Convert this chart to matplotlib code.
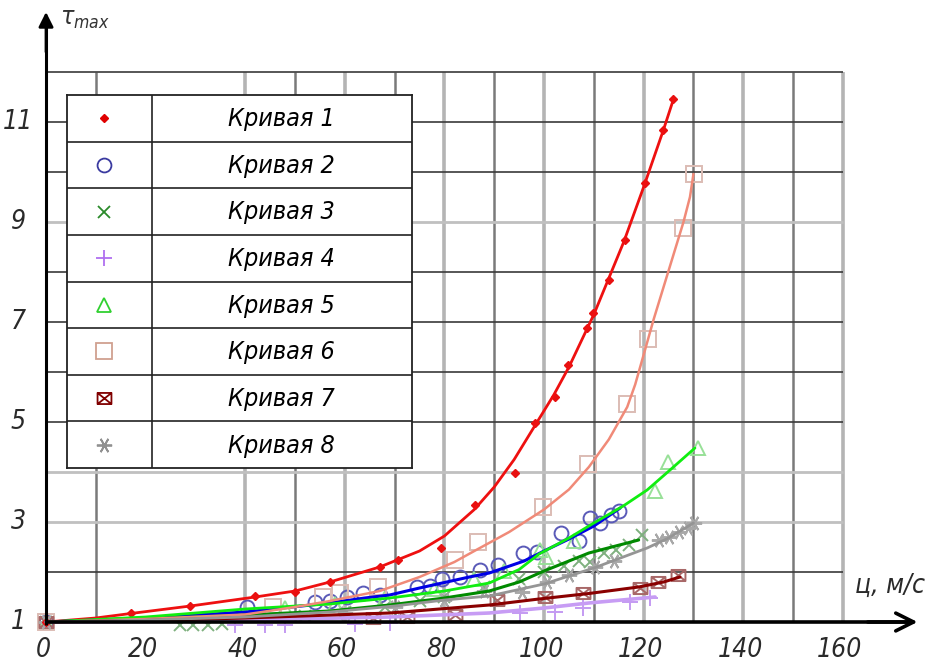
import matplotlib
matplotlib.use("Agg")
import matplotlib.pyplot as plt
from matplotlib.path import Path

plt.rcParams['font.family'] = ['DejaVu Sans']
plt.rcParams['font.stretch'] = 'condensed'

# ---------------- data ----------------
labels = ["Кривая 1", "Кривая 2", "Кривая 3", "Кривая 4",
          "Кривая 5", "Кривая 6", "Кривая 7", "Кривая 8"]

x_ticks = [0, 20, 40, 60, 80, 100, 120, 140, 160]
y_ticks = [1, 3, 5, 7, 9, 11]

# measured points
c1_x = [0, 17, 29, 42, 50, 57, 67, 70.7, 79.3, 86.1, 94.2, 98.2, 102.2, 104.8, 108.6, 109.8, 113, 116.3, 120.3, 123.9, 125.9]
c1_y = [1, 1.18, 1.32, 1.52, 1.6, 1.8, 2.1, 2.24, 2.48, 3.34, 3.98, 4.98, 5.5, 6.14, 6.88, 7.18, 7.84, 8.64, 9.78, 10.84, 11.46]
c2_x = [0, 40.4, 54, 57, 60.4, 63.7, 67, 74.5, 77, 79.5, 83.1, 87.1, 90.8, 95.8, 98.6, 103.4, 107, 109.2, 111.2, 113.5, 115]
c2_y = [1, 1.3, 1.4, 1.42, 1.5, 1.58, 1.54, 1.7, 1.72, 1.86, 1.9, 2.04, 2.14, 2.38, 2.4, 2.78, 2.62, 3.08, 2.98, 3.14, 3.22]
c3_x = [0, 27, 29.5, 32.5, 35.3, 52, 60, 68, 75, 80, 88, 95, 100, 104, 107, 109.2, 112, 114.5, 117, 119.7]
c3_y = [1, 0.94, 0.94, 0.95, 0.96, 1.12, 1.2, 1.3, 1.42, 1.5, 1.7, 1.86, 2.0, 2.12, 2.22, 2.2, 2.38, 2.45, 2.55, 2.74]
c4_x = [0, 38, 44, 48, 62, 69, 95.2, 102.2, 107.8, 117.3, 121.3]
c4_y = [1, 0.94, 0.94, 0.94, 0.96, 0.98, 1.18, 1.2, 1.28, 1.4, 1.48]
c5_x = [0, 48, 58, 68, 78, 86, 92, 99.2, 100.4, 106, 122.3, 124.9, 131]
c5_y = [1, 1.28, 1.36, 1.48, 1.66, 1.86, 2.02, 2.44, 2.3, 2.62, 3.62, 4.2, 4.48]
c6_x = [0, 45.6, 55.6, 59, 66.7, 82.1, 86.7, 99.8, 108.8, 116.7, 120.9, 127.9, 130.1]
c6_y = [1, 1.3, 1.5, 1.58, 1.7, 2.24, 2.6, 3.3, 4.16, 5.36, 6.66, 8.88, 9.96]
c7_x = [0, 65.7, 72.5, 82.1, 90.6, 100.2, 107.8, 119.3, 122.9, 126.9]
c7_y = [1, 1.08, 1.1, 1.14, 1.44, 1.5, 1.58, 1.68, 1.8, 1.94]
c8_x = [0, 60, 70, 80, 88, 95.6, 100.6, 105, 110.2, 114, 123, 125, 127, 129, 130.1]
c8_y = [1, 1.18, 1.3, 1.45, 1.62, 1.6, 1.8, 1.95, 2.1, 2.22, 2.64, 2.7, 2.8, 2.88, 2.98]

# fitted curves
f1_x = [0, 10, 17, 29, 42, 50, 57, 67, 75, 80, 86, 90, 94, 98, 102, 105, 110, 116, 120, 124, 126]
f1_y = [1, 1.08, 1.17, 1.32, 1.5, 1.62, 1.8, 2.1, 2.42, 2.72, 3.25, 3.7, 4.25, 4.9, 5.55, 6.1, 7.15, 8.6, 9.7, 10.85, 11.46]
f2_x = [0, 20, 40, 57, 64, 69, 75, 85, 89, 96, 100, 105, 110, 115.3]
f2_y = [1, 1.08, 1.2, 1.38, 1.48, 1.54, 1.68, 1.9, 1.98, 2.22, 2.42, 2.66, 2.92, 3.28]
f3_x = [0, 20, 40, 57, 69, 80, 89, 95, 100, 109, 119]
f3_y = [1, 1.06, 1.14, 1.22, 1.34, 1.48, 1.62, 1.8, 2.02, 2.38, 2.64]
f4_x = [0, 20, 40, 69, 89, 100, 109, 122.3]
f4_y = [1, 1.01, 1.04, 1.1, 1.18, 1.28, 1.38, 1.5]
f5_x = [0, 20, 40, 57, 69, 80, 89, 95, 99, 105, 110, 115.9, 120.7, 125.3, 130.3]
f5_y = [1, 1.1, 1.26, 1.36, 1.48, 1.62, 1.78, 2.05, 2.36, 2.68, 2.98, 3.32, 3.64, 4.04, 4.48]
f6_x = [0, 20, 40, 50, 57, 67, 75, 82, 86, 93, 100, 105, 109, 113, 116.7, 118.3, 120.3, 122, 124, 126, 128, 129.3, 130]
f6_y = [1, 1.06, 1.15, 1.3, 1.42, 1.62, 1.9, 2.2, 2.42, 2.8, 3.25, 3.65, 4.1, 4.65, 5.3, 5.75, 6.45, 7.05, 7.7, 8.35, 9.0, 9.5, 9.96]
f7_x = [0, 20, 40, 69, 89, 99, 109, 119, 124, 127.3]
f7_y = [1, 1.03, 1.08, 1.18, 1.34, 1.46, 1.57, 1.7, 1.8, 1.9]
f8_x = [0, 20, 40, 57, 70, 80, 89, 100, 110, 120.7, 125, 130]
f8_y = [1, 1.04, 1.1, 1.2, 1.32, 1.44, 1.52, 1.76, 2.08, 2.48, 2.68, 2.98]

# ---------------- styles ----------------
boxed_x = Path([(-1, -0.8), (1, -0.8), (1, 0.8), (-1, 0.8), (-1, -0.8),
                (-1, -0.8), (1, 0.8), (1, -0.8), (-1, 0.8)],
               [Path.MOVETO, Path.LINETO, Path.LINETO, Path.LINETO, Path.CLOSEPOLY,
                Path.MOVETO, Path.LINETO, Path.MOVETO, Path.LINETO])

series = [
    # points, curve, marker, size, marker colour (plot), marker colour (legend), line colour, line width
    (c1_x, c1_y, f1_x, f1_y, 'D', 4, '#e81010', '#e00000', '#ee1010', 2.0),
    (c2_x, c2_y, f2_x, f2_y, 'o', 10, '#5a5ab8', '#3a3aa0', '#0000e6', 2.2),
    (c3_x, c3_y, f3_x, f3_y, 'x', 9, '#7fb07f', '#2a8a2a', '#008a00', 2.2),
    (c4_x, c4_y, f4_x, f4_y, '+', 11, '#c49af2', '#b070f0', '#c79cf4', 2.6),
    (c5_x, c5_y, f5_x, f5_y, '^', 10, '#98e098', '#30d030', '#10ee10', 2.0),
    (c6_x, c6_y, f6_x, f6_y, 's', 11, '#dcbcb4', '#d0a090', '#f08a78', 1.8),
    (c7_x, c7_y, f7_x, f7_y, boxed_x, 10, '#a86868', '#800000', '#8a0000', 2.2),
    (c8_x, c8_y, f8_x, f8_y, (6, 2, 90), 11, '#a8a8a8', '#909090', '#959595', 2.0),
]

W, H = 935, 669
fig = plt.figure(figsize=(W / 100, H / 100), dpi=100)
ax = fig.add_axes([0, 0, 1, 1])
ax.set_xlim(-9.24, 178.5)
ax.set_ylim(0.06, 13.44)
ax.axis('off')

# ---------------- grid ----------------
dark_v = '#7a7a7a'
light_v = '#b4b4b4'
for gx in [10, 40, 50, 60, 70, 80, 90, 100, 110, 120, 130, 140, 150, 160]:
    if gx % 20 == 0:
        ax.vlines(gx, 1, 12, color=light_v, lw=2.6, zorder=1)
    else:
        ax.vlines(gx, 1, 12, color=dark_v, lw=1.8, zorder=1)
for gy in range(2, 13):
    if gy in (3, 4, 9):
        ax.hlines(gy, 0, 160, color='#c0c0c0', lw=2.0, zorder=1)
    else:
        ax.hlines(gy, 0, 160, color='#3a3a3a', lw=1.2, zorder=1)

# ---------------- axes with arrows ----------------
ax.plot([0, 0], [0.95, 13.0], color='black', lw=2.2, zorder=6, solid_capstyle='butt')
ax.plot([0, 173], [1, 1], color='black', lw=2.6, zorder=6, solid_capstyle='butt')
ax.annotate('', xy=(0, 13.2), xytext=(0, 12.4),
            arrowprops=dict(arrowstyle='-|>', lw=2, color='black', mutation_scale=22,
                            shrinkA=0, shrinkB=0), zorder=6)
ax.annotate('', xy=(175, 1), xytext=(165, 1),
            arrowprops=dict(arrowstyle='->', lw=2.6, color='black', mutation_scale=32,
                            shrinkA=0, shrinkB=0), zorder=6)

tick_font = dict(style='italic', fontsize=19, color='#2a2a2a', fontstretch='condensed')
for tx in x_ticks:
    ax.text(tx - 0.6, 0.44, str(tx), ha='center', va='center', **tick_font)
for ty in y_ticks:
    ax.text(-5.6, ty, str(ty), ha='center', va='center', **tick_font)

ax.text(7.8, 13.05, r'$\tau_{\mathit{max}}$', ha='center', va='center',
        fontsize=18, color='#333333')
ax.text(169.5, 1.72, 'ц, м/с', ha='center', va='center', style='italic',
        fontsize=19, color='#2a2a2a', fontstretch='condensed')

# ---------------- data ----------------
for px, py, fx, fy, mk, ms, mc, _, lc, lw in series:
    if mk == 'D':
        ax.plot(px, py, ls='none', marker=mk, ms=ms, color=mc, zorder=4)
    else:
        ax.plot(px, py, ls='none', marker=mk, ms=ms, mfc='none', mec=mc,
                mew=1.4, zorder=3)
    ax.plot(fx, fy, color=lc, lw=lw, zorder=4, solid_capstyle='round')

# ---------------- legend table ----------------
lg = fig.add_axes([67 / W, (H - 468) / H, 345 / W, 373 / H])
lg.set_xlim(0, 345)
lg.set_ylim(0, len(labels))
lg.set_facecolor('white')
for sp in lg.spines.values():
    sp.set_color('#222222')
    sp.set_linewidth(1.3)
lg.set_xticks([])
lg.set_yticks([])
lg.set_zorder(10)
lg.axvline(85, color='#222222', lw=1.2)
for k in range(1, len(labels)):
    lg.axhline(k, color='#222222', lw=1.2)
for i, (lab, s) in enumerate(zip(labels, series)):
    yc = len(labels) - i - 0.5
    mk, ms, lcol = s[4], s[5], s[7]
    if mk == 'D':
        lg.plot([37], [yc], marker=mk, ms=ms, color=lcol, ls='none')
    else:
        lg.plot([37], [yc], marker=mk, ms=ms, mfc='none', mec=lcol, mew=1.3, ls='none')
    lg.text(214, yc - 0.02, lab, ha='center', va='center', style='italic',
            fontsize=18, color='black', fontstretch='condensed')

fig.savefig('out.png', dpi=100)
